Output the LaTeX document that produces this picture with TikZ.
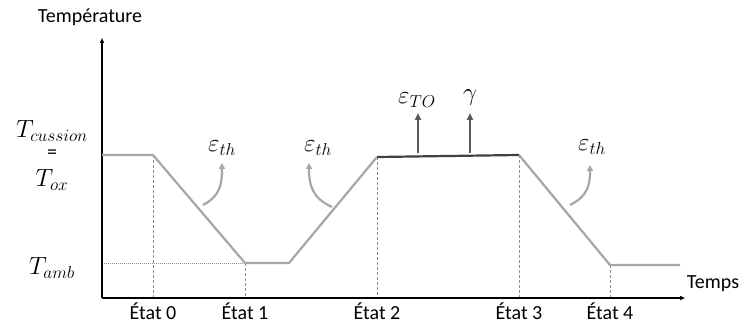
\documentclass[tikz,border=0pt]{standalone}
\usepackage{fontspec}
\setmainfont{Carlito}
\usetikzlibrary{arrows.meta}
\definecolor{curve}{HTML}{A6A6A6}
\definecolor{plateau}{HTML}{404040}
\definecolor{darkarr}{HTML}{595959}
\definecolor{guide}{HTML}{8C8C8C}
\begin{document}
\begin{tikzpicture}[x=1pt,y=-1pt,
  axis/.style={line width=1.3pt,black,-{Triangle[length=5pt,width=4pt]}},
  tcurve/.style={line width=2.2pt,curve,line join=round},
  topline/.style={line width=2.2pt,plateau},
  guideline/.style={line width=0.5pt,guide,dash pattern=on 3pt off 2pt},
  dotline/.style={line width=0.5pt,guide,dash pattern=on 1pt off 1pt},
  uparr/.style={line width=2.2pt,darkarr,-{Triangle[length=7pt,width=6pt]}},
  bendarr/.style={line width=2.2pt,curve,-{Triangle[length=6pt,width=6pt]}},
  lbl/.style={font=\fontsize{20}{22}\selectfont,inner sep=0pt},
  mlbl/.style={font=\fontsize{26}{28}\selectfont,inner sep=0pt}]
\useasboundingbox (0,0) rectangle (742,331);
% coordinates
\coordinate (O) at (102,298);
\coordinate (ytop) at (102,38);
\coordinate (xend) at (685,298);
\coordinate (p0) at (102,155);
\coordinate (p1) at (153,155);
\coordinate (p2) at (245,263);
\coordinate (p3) at (289,263);
\coordinate (p4) at (377,157);
\coordinate (p5) at (519,155);
\coordinate (p6) at (610,265);
\coordinate (p7) at (680,265);
\coordinate (b1) at (153,298);
\coordinate (b2) at (245,298);
\coordinate (b4) at (377,298);
\coordinate (b5) at (519,298);
\coordinate (b6) at (610,298);
\coordinate (yamb) at (102,263);
% guides
\draw[guideline] (p1) -- (b1);
\draw[guideline] (p2) -- (b2);
\draw[guideline] (p4) -- (b4);
\draw[guideline] (p5) -- (b5);
\draw[guideline] (p6) -- (b6);
\draw[dotline] (yamb) -- (p2);
% axes
\draw[axis] (O) -- (ytop);
\draw[axis] (O) -- (xend);
% curve
\draw[tcurve] (p0) -- (p1) -- (p2) -- (p3) -- (p4);
\draw[tcurve] (p5) -- (p6) -- (p7);
\draw[topline] (p4) -- (p5);
% labels
\node[lbl] (temp) at (90,17) {Température};
\node[lbl] (temps) at (713,284) {Temps};
\node[lbl] (e0) at (153,311) {État 0};
\node[lbl] (e1) at (245,311) {État 1};
\node[lbl] (e2) at (377,311) {État 2};
\node[lbl] (e3) at (519,311) {État 3};
\node[lbl] (e4) at (610,311) {État 4};
\node[mlbl] (tc) at (52,131) {$T_{cussion}$};
\node[lbl] (eq) at (52,154) {=};
\node[mlbl] (tox) at (52,180) {$T_{ox}$};
\node[mlbl] (tamb) at (52,268) {$T_{amb}$};
\node[mlbl] (th1) at (222,148) {$\varepsilon_{th}$};
\node[mlbl] (th2) at (318,148) {$\varepsilon_{th}$};
\node[mlbl] (th3) at (592,147) {$\varepsilon_{th}$};
\node[mlbl] (eto) at (417,100) {$\varepsilon_{TO}$};
\node[mlbl] (gam) at (470,98) {$\gamma$};
% arrows
\coordinate (a1s) at (203,205);
\coordinate (a1e) at (222,163);
\coordinate (a2s) at (332,207);
\coordinate (a2e) at (309,163);
\coordinate (a3s) at (570,205);
\coordinate (a3e) at (590,165);
\draw[bendarr] (a1s) .. controls (220,196) and (222,185) .. (a1e);
\draw[bendarr] (a2s) .. controls (312,198) and (309,185) .. (a2e);
\draw[bendarr] (a3s) .. controls (588,196) and (590,185) .. (a3e);
\coordinate (u1s) at (418,153);
\coordinate (u1e) at (418,113);
\coordinate (u2s) at (470,153);
\coordinate (u2e) at (470,113);
\draw[uparr] (u1s) -- (u1e);
\draw[uparr] (u2s) -- (u2e);
\end{tikzpicture}
\end{document}
